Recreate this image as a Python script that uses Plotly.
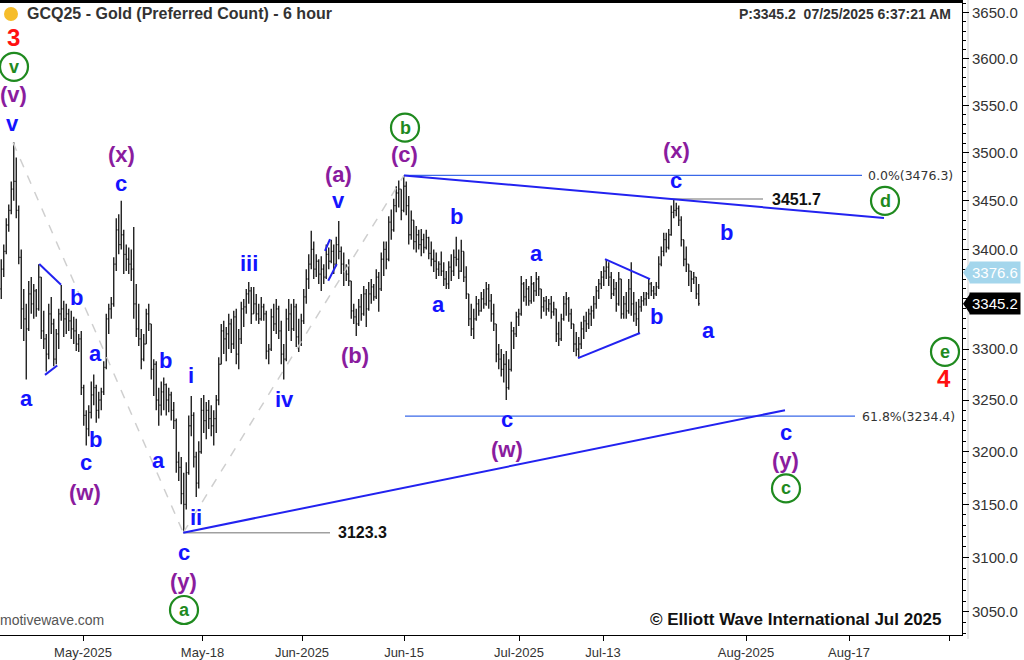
import math
import plotly.graph_objects as go

# ---------------- price data (6-hour bars, GCQ25) ----------------
opens = [
    3360,3380,3398,3425,3440,3462,3470,3440,3392,3340,
    3330,3320,3355,3345,3358,3340,3372,3318,3310,3295,
    3335,3325,3290,3315,3335,3340,3330,3335,3328,3320,
    3318,3305,3310,3262,3235,3222,3238,3255,3262,3240,
    3250,3258,3282,3330,3340,3345,3385,3420,3405,3415,
    3395,3390,3385,3380,3345,3320,3310,3290,3305,3335,
    3325,3280,3285,3250,3245,3258,3265,3250,3255,3240,
    3230,3190,3185,3160,3150,3180,3225,3235,3195,3170,
    3200,3240,3230,3240,3232,3225,3232,3250,3285,3318,
    3310,3315,3325,3305,3332,3295,3310,3340,3342,3355,
    3358,3335,3345,3335,3330,3342,3335,3298,3300,3332,
    3325,3340,3318,3295,3290,3330,3335,3320,3342,3312,
    3305,3328,3352,3370,3385,3400,3380,3388,3375,3380,
    3372,3395,3388,3398,3385,3405,3398,3385,3378,3375,
    3368,3338,3332,3325,3342,3335,3355,3340,3355,3362,
    3352,3372,3360,3390,3400,3390,3428,3420,3445,3458,
    3462,3440,3465,3445,3415,3430,3408,3415,3405,3410,
    3402,3412,3396,3390,3388,3380,3385,3378,3370,3365,
    3382,3378,3392,3390,3378,3398,3372,3355,3330,3320,
    3330,3345,3338,3350,3345,3360,3348,3335,3325,3295,
    3290,3280,3285,3262,3280,3318,3315,3332,3335,3365,
    3352,3360,3348,3365,3358,3370,3360,3342,3348,3340,
    3345,3337,3340,3315,3310,3330,3345,3350,3335,3325,
    3305,3300,3305,3320,3328,3325,3335,3338,3345,3358,
    3365,3372,3378,3382,3372,3355,3360,3345,3370,3335,
    3345,3338,3360,3345,3335,3330,3342,3348,3350,3355,
    3365,3358,3355,3362,3385,3398,3410,3402,3415,3438,
    3440,3442,3430,3410,3390,3385,3378,3370,3372,3355,
]
highs = [
    3390,3405,3432,3446,3470,3511,3495,3445,3400,3360,
    3345,3368,3372,3365,3360,3385,3372,3338,3315,3345,
    3352,3330,3320,3340,3364,3348,3345,3340,3338,3332,
    3330,3315,3318,3265,3240,3245,3268,3275,3265,3258,
    3262,3288,3335,3345,3352,3392,3432,3436,3450,3420,
    3405,3402,3400,3423,3365,3345,3320,3315,3340,3345,
    3325,3290,3288,3262,3268,3272,3266,3262,3258,3248,
    3232,3200,3195,3180,3190,3235,3254,3238,3200,3210,
    3252,3255,3248,3250,3245,3240,3255,3292,3325,3328,
    3322,3335,3330,3338,3340,3320,3347,3350,3360,3367,
    3362,3362,3355,3345,3352,3345,3338,3305,3340,3345,
    3350,3343,3328,3305,3340,3350,3345,3350,3345,3330,
    3335,3360,3380,3395,3419,3408,3395,3390,3393,3385,
    3405,3402,3410,3405,3413,3429,3403,3397,3385,3390,
    3368,3345,3340,3350,3355,3363,3360,3367,3370,3365,
    3380,3377,3397,3408,3408,3434,3441,3452,3465,3471,
    3462,3476.3,3470,3455,3440,3430,3424,3420,3421,3416,
    3420,3413,3408,3400,3397,3388,3398,3387,3378,3388,
    3395,3400,3413,3400,3410,3398,3383,3355,3345,3340,
    3353,3350,3357,3360,3367,3365,3355,3345,3325,3305,
    3300,3295,3298,3290,3327,3322,3337,3340,3373,3367,
    3370,3363,3373,3367,3377,3373,3360,3352,3353,3350,
    3353,3347,3340,3327,3335,3353,3357,3352,3340,3325,
    3317,3312,3327,3333,3337,3340,3343,3353,3363,3370,
    3378,3383,3390,3387,3377,3370,3367,3377,3370,3353,
    3357,3370,3387,3357,3347,3350,3353,3357,3357,3370,
    3367,3363,3367,3393,3403,3417,3417,3421,3445,3451.7,
    3448,3445,3434,3410,3403,3385,3378,3377,3372,3365,
]
lows = [
    3350,3372,3395,3418,3436,3450,3432,3385,3320,3308,
    3270,3318,3335,3330,3332,3338,3310,3300,3278,3290,
    3315,3283,3285,3300,3328,3312,3315,3318,3310,3305,
    3298,3297,3255,3225,3206,3215,3232,3245,3228,3232,
    3240,3255,3280,3315,3330,3342,3378,3395,3400,3375,
    3378,3375,3368,3330,3312,3303,3280,3288,3305,3318,
    3270,3254,3240,3225,3235,3240,3235,3238,3230,3222,
    3180,3172,3150,3123.3,3145,3178,3215,3185,3157,3165,
    3198,3218,3212,3222,3215,3206,3218,3245,3285,3295,
    3288,3300,3296,3300,3285,3280,3305,3322,3335,3345,
    3325,3335,3328,3325,3328,3328,3290,3285,3298,3318,
    3315,3310,3285,3270,3288,3318,3308,3318,3302,3297,
    3303,3325,3345,3360,3380,3370,3372,3365,3358,3365,
    3370,3380,3386,3375,3383,3390,3375,3363,3368,3363,
    3330,3325,3313,3323,3328,3333,3322,3338,3345,3348,
    3350,3337,3358,3373,3380,3388,3410,3418,3438,3443,
    3430,3438,3435,3405,3410,3400,3397,3400,3393,3396,
    3400,3390,3383,3377,3370,3373,3373,3363,3360,3360,
    3368,3373,3383,3370,3377,3367,3350,3323,3313,3310,
    3328,3333,3337,3340,3343,3340,3327,3318,3287,3280,
    3273,3267,3250,3260,3278,3300,3312,3323,3333,3347,
    3343,3343,3345,3347,3353,3353,3330,3337,3333,3337,
    3330,3333,3307,3303,3308,3328,3333,3327,3320,3297,
    3293,3291,3300,3310,3317,3320,3323,3330,3340,3350,
    3360,3363,3370,3363,3350,3353,3337,3343,3330,3330,
    3330,3335,3333,3327,3323,3316,3337,3343,3343,3350,
    3353,3350,3353,3360,3383,3393,3397,3400,3414,3432,
    3434,3424,3403,3383,3377,3363,3357,3365,3350,3343,
]
closes = [
    3380,3398,3425,3440,3462,3470,3440,3392,3340,3330,
    3320,3355,3345,3358,3340,3372,3318,3310,3295,3335,
    3325,3290,3315,3335,3340,3330,3335,3328,3320,3318,
    3305,3310,3262,3235,3222,3238,3255,3262,3240,3250,
    3258,3282,3330,3340,3345,3385,3420,3405,3415,3395,
    3390,3385,3380,3345,3320,3310,3290,3305,3335,3325,
    3280,3285,3250,3245,3258,3265,3250,3255,3240,3230,
    3190,3185,3160,3150,3180,3225,3235,3195,3170,3200,
    3240,3230,3240,3232,3225,3232,3250,3285,3318,3310,
    3315,3325,3305,3332,3295,3310,3340,3342,3355,3358,
    3335,3345,3335,3330,3342,3335,3298,3300,3332,3325,
    3340,3318,3295,3290,3330,3335,3320,3342,3312,3305,
    3328,3352,3370,3385,3400,3380,3388,3375,3380,3372,
    3395,3388,3398,3385,3405,3398,3385,3378,3375,3368,
    3338,3332,3325,3342,3335,3355,3340,3355,3362,3352,
    3372,3360,3390,3400,3390,3428,3420,3445,3458,3462,
    3440,3465,3445,3415,3430,3408,3415,3405,3410,3402,
    3412,3396,3390,3388,3380,3385,3378,3370,3365,3382,
    3378,3392,3390,3378,3398,3372,3355,3330,3320,3330,
    3345,3338,3350,3345,3360,3348,3335,3325,3295,3290,
    3280,3285,3262,3280,3318,3315,3332,3335,3365,3352,
    3360,3348,3365,3358,3370,3360,3342,3348,3340,3345,
    3337,3340,3315,3310,3330,3345,3350,3335,3325,3305,
    3300,3305,3320,3328,3325,3335,3338,3345,3358,3365,
    3372,3378,3382,3372,3355,3360,3345,3370,3335,3345,
    3338,3360,3345,3335,3330,3342,3348,3350,3355,3365,
    3358,3355,3362,3385,3398,3410,3402,3415,3438,3440,
    3442,3430,3410,3390,3385,3378,3370,3372,3355,3345.2,
]
bars = list(range(len(closes)))

# x-axis (bar index of each date label)
date_labels = ["May-2025", "May-18", "Jun-2025", "Jun-15", "Jul-2025", "Jul-13", "Aug-2025", "Aug-17", ""]
date_label_bar = [32.7, 80.5, 120.3, 161.1, 207.1, 240.7, 297.9, 339.1, 379.1]
price_ticks = [3050, 3100, 3150, 3200, 3250, 3300, 3350, 3400, 3450, 3500, 3550, 3600, 3650]
price_minor = [v for v in range(3030, 3661, 10) if v % 50 != 0]

# wave labels: (text, bar index, price)
blue_labels = [
    ("v", 4.3, 3530.7), ("c", 47.9, 3467.9), ("a", 9.9, 3251.3), ("b", 29.9, 3350.9),
    ("a", 37.5, 3295.3), ("b", 37.5, 3211.7), ("c", 33.9, 3189.7), ("b", 65.5, 3288.6),
    ("a", 62.7, 3191.6), ("i", 75.9, 3273.6), ("ii", 77.9, 3137.5), ("c", 73.1, 3105.1),
    ("iii", 99.1, 3386.1), ("iv", 113.1, 3250.3), ("v", 134.7, 3449.9), ("b", 181.9, 3433.6),
    ("a", 174.7, 3344.0), ("a", 213.9, 3396.2), ("c", 202.3, 3231.0), ("c", 269.9, 3471.0),
    ("b", 261.9, 3332.0), ("b", 289.9, 3417.5), ("a", 282.7, 3318.0), ("c", 313.9, 3218.5),
]
purple_labels = [
    ("(v)", 4.7, 3561.4), ("(x)", 47.9, 3498.1), ("(w)", 33.5, 3161.2), ("(y)", 72.7, 3078.3),
    ("(a)", 134.7, 3477.3), ("(b)", 141.5, 3293.4), ("(c)", 161.1, 3498.1), ("(w)", 202.3, 3202.1),
    ("(x)", 269.9, 3502.3), ("(y)", 313.5, 3191.6),
]
green_labels = [
    ("v", 5.1, 3591.3), ("a", 73.1, 3051.8), ("b", 161.5, 3526.4),
    ("d", 353.5, 3449.9), ("e", 377.5, 3297.3), ("c", 313.9, 3165.0),
]
red_labels = [("3", 4.7, 3622.5), ("4", 377.1, 3270.7)]

# trend / channel lines: (bar indices, prices)
upper_line = ([161.1, 353.1], [3476.3, 3432.2])
lower_line = ([72.8, 313.5], [3123.3, 3240.1])
fib_0 = ([161.1, 344.3], [3476.3, 3476.3])
fib_618 = ([161.5, 341.5], [3234.4, 3234.4])
level_hi = ([268.3, 304.7], [3451.7, 3451.7])
level_lo = ([72.8, 131.5], [3123.3, 3123.3])
dash_a = ([4.7, 72.8], [3510.7, 3123.3])
dash_b = ([72.8, 161.1], [3123.3, 3476.3])
small_lines = [
    ([15.2, 23.9], [3385.1, 3364.3]),
    ([17.5, 22.4], [3274.6, 3283.8]),
    ([129.5, 131.5], [3398.6, 3410.6]),
    ([130.8, 134.2], [3368.3, 3385.1]),
    ([241.5, 259.5], [3390.2, 3369.9]),
    ([230.7, 255.5], [3291.1, 3315.9]),
]

BLUE = "#1414ff"
PURPLE = "#8a1c9e"
GREEN = "#1f8a1f"
RED = "#ff1010"
FONT = "Liberation Sans, Arial, sans-serif"

Y_LO, Y_HI = 3029.0, 3663.9
LY_LO, LY_HI = math.log10(Y_LO), math.log10(Y_HI)

fig = go.Figure()

def add_line(xs, ys, color, width, dash="solid"):
    fig.add_trace(go.Scatter(x=xs, y=ys, mode="lines", line=dict(color=color, width=width, dash=dash),
                             hoverinfo="skip", showlegend=False))

add_line(*dash_a, "#cfcfcf", 1.5, "dash")
add_line(*dash_b, "#cfcfcf", 1.5, "dash")
add_line(*level_hi, "#a0a0a0", 1.5)
add_line(*level_lo, "#a0a0a0", 1.5)
add_line(*fib_0, "#3a68e8", 1.2)
add_line(*fib_618, "#3a68e8", 1.2)

fig.add_trace(go.Ohlc(x=bars, open=opens, high=highs, low=lows, close=closes,
                      increasing=dict(line=dict(color="#111111", width=1.3)),
                      decreasing=dict(line=dict(color="#111111", width=1.3)),
                      tickwidth=0.4, hoverinfo="skip", showlegend=False))

add_line(*upper_line, "#2222f0", 2)
add_line(*lower_line, "#2222f0", 2)
for xs, ys in small_lines:
    add_line(xs, ys, "#2222f0", 2)

# green circles
fig.add_trace(go.Scatter(x=[g[1] for g in green_labels], y=[g[2] for g in green_labels], mode="markers",
                         marker=dict(symbol="circle-open", size=28, color=GREEN, line=dict(width=2.2, color=GREEN)),
                         hoverinfo="skip", showlegend=False))

ann = []
def label(text, x, p, color, size):
    ann.append(dict(x=x, y=math.log10(p), xref="x", yref="y", text="<b>%s</b>" % text, showarrow=False,
                    xanchor="center", yanchor="middle",
                    font=dict(family=FONT, size=size, color=color)))

for t, x, p in blue_labels:
    label(t, x, p, BLUE, 22)
for t, x, p in purple_labels:
    label(t, x, p, PURPLE, 22)
for t, x, p in green_labels:
    label(t, x, p, GREEN, 18)
for t, x, p in red_labels:
    label(t, x, p, RED, 24)

# level texts
ann.append(dict(x=307.5, y=math.log10(3451.7), xref="x", yref="y", text="<b>3451.7</b>", showarrow=False,
                xanchor="left", yanchor="middle", font=dict(family=FONT, size=16, color="#111")))
ann.append(dict(x=133.9, y=math.log10(3123.3), xref="x", yref="y", text="<b>3123.3</b>", showarrow=False,
                xanchor="left", yanchor="middle", font=dict(family=FONT, size=16, color="#111")))
ann.append(dict(x=345.9, y=math.log10(3476.3), xref="x", yref="y", text="0.0%(3476.3)", showarrow=False,
                xanchor="left", yanchor="middle", font=dict(family="DejaVu Sans", size=12.5, color="#333")))
ann.append(dict(x=343.5, y=math.log10(3234.4), xref="x", yref="y", text="61.8%(3234.4)", showarrow=False,
                xanchor="left", yanchor="middle", font=dict(family="DejaVu Sans", size=12.5, color="#333")))

# header / footer texts
PW, PH = 962.0, 637.0
ann.append(dict(x=25 / PW, y=(PH - 14) / PH, xref="paper", yref="paper", text="<b>GCQ25 - Gold (Preferred Count) - 6 hour</b>",
                showarrow=False, xanchor="left", yanchor="middle", font=dict(family=FONT, size=16, color="#333")))
ann.append(dict(x=953 / PW, y=(PH - 14) / PH, xref="paper", yref="paper", text="<b>P:3345.2  07/25/2025 6:37:21 AM</b>",
                showarrow=False, xanchor="right", yanchor="middle", font=dict(family=FONT, size=14, color="#333")))
ann.append(dict(x=944 / PW, y=(PH - 621) / PH, xref="paper", yref="paper", text="<b>© Elliott Wave International Jul 2025</b>",
                showarrow=False, xanchor="right", yanchor="middle", font=dict(family=FONT, size=17, color="#111")))
ann.append(dict(x=-2 / PW, y=(PH - 622) / PH, xref="paper", yref="paper", text="motivewave.com",
                showarrow=False, xanchor="left", yanchor="middle", font=dict(family=FONT, size=14, color="#555")))

# price tags on the axis
def ypaper(p):
    return (math.log10(p) - LY_LO) / (LY_HI - LY_LO)

shapes = []
for p, bg, txt in [(3376.6, "#a4d6ec", "3376.6"), (3345.2, "#000000", "3345.2")]:
    ann.append(dict(x=1 + 7 / PW, y=ypaper(p), xref="paper", yref="paper", text=txt, showarrow=False,
                    xanchor="left", yanchor="middle", bgcolor=bg, borderpad=2,
                    font=dict(family=FONT, size=15, color="#ffffff")))
    yc = ypaper(p)
    dh = 10 / PH
    shapes.append(dict(type="path", xref="paper", yref="paper",
                       path="M %f,%f L %f,%f L %f,%f Z" % (1 + 1 / PW, yc, 1 + 8 / PW, yc + dh, 1 + 8 / PW, yc - dh),
                       fillcolor=bg, line=dict(width=0)))

shapes.append(dict(type="rect", xref="paper", yref="paper", x0=0, x1=1, y0=1 - 3 / PH, y1=1,
                   fillcolor="black", line=dict(width=0)))
shapes.append(dict(type="circle", xref="paper", yref="paper", x0=4 / PW, x1=18 / PW,
                   y0=(PH - 21) / PH, y1=(PH - 7) / PH, fillcolor="#f6bd2b", line=dict(width=0)))
shapes.append(dict(type="line", xref="paper", yref="paper", x0=1 + 6 / PW, x1=1 + 6 / PW, y0=-4 / PH, y1=1,
                   line=dict(color="#d0d0d0", width=1), layer="below"))

fig.update_layout(
    width=1024, height=660,
    margin=dict(l=0, r=62, t=0, b=23),
    paper_bgcolor="white", plot_bgcolor="white",
    showlegend=False,
    annotations=ann, shapes=shapes,
    xaxis=dict(range=[-0.5, 384.3], tickmode="array", tickvals=date_label_bar, ticktext=date_labels,
               ticks="outside", ticklen=5, tickcolor="black", showline=True, linecolor="black", linewidth=1,
               showgrid=False, zeroline=False, rangeslider=dict(visible=False), fixedrange=True,
               tickfont=dict(family=FONT, size=13, color="#333")),
    yaxis=dict(type="log", side="right", range=[LY_LO, LY_HI], tickmode="array", tickvals=price_ticks,
               ticktext=["%.1f" % v for v in price_ticks], ticks="outside", ticklen=6, tickcolor="black",
               showline=True, linecolor="black", linewidth=1, showgrid=False, zeroline=False, fixedrange=True,
               minor=dict(tickmode="array", tickvals=price_minor, ticks="outside", ticklen=3, tickcolor="black"),
               tickfont=dict(family=FONT, size=15, color="#333")),
)

fig.write_html("out.html", config={"displayModeBar": False},
               post_script="document.body.style.margin='0';")
